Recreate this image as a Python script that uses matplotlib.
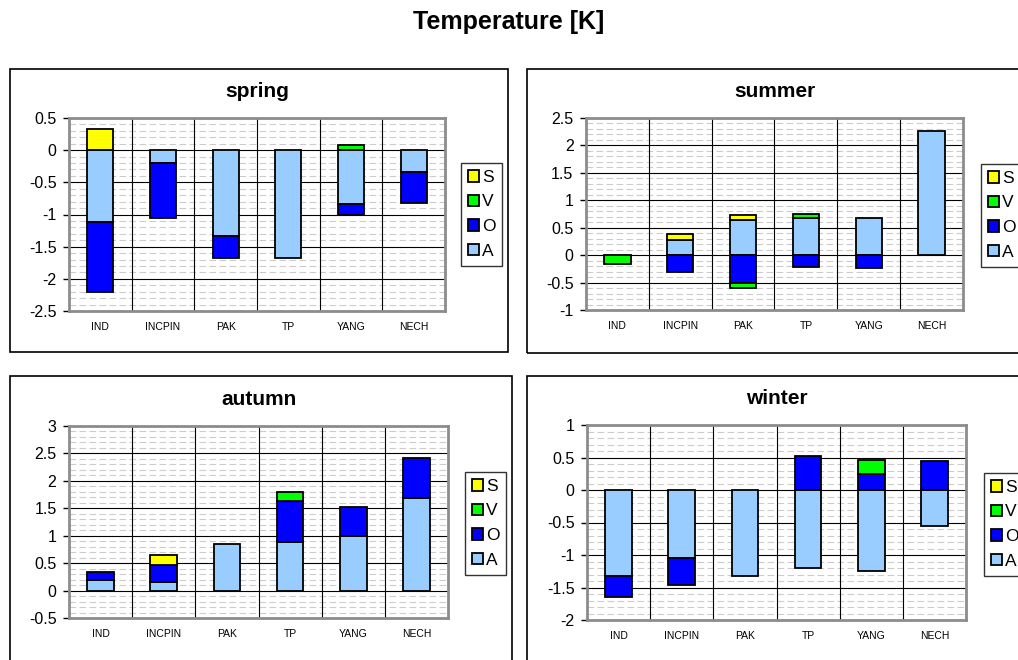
import matplotlib
matplotlib.use('Agg')
import matplotlib.pyplot as plt
import numpy as np
from matplotlib.patches import Patch, Rectangle
from matplotlib.ticker import MultipleLocator

plt.rcParams['font.family'] = ['Liberation Sans', 'DejaVu Sans']

categories = ['IND', 'INCPIN', 'PAK', 'TP', 'YANG', 'NECH']
series_names = ['A', 'O', 'V', 'S']
series_colors = ['#99CCFF', '#0000FF', '#00FF00', '#FFFF00']

# contributions per region, one list per component
spring_A = [-1.11, -0.20, -1.34, -1.67, -0.83, -0.34]
spring_O = [-1.10, -0.86, -0.33, 0.00, -0.18, -0.48]
spring_V = [0.00, 0.00, 0.00, 0.00, 0.08, 0.00]
spring_S = [0.33, 0.00, 0.00, 0.00, 0.00, 0.00]

summer_A = [0.00, 0.28, 0.64, 0.68, 0.68, 2.27]
summer_O = [0.00, -0.31, -0.50, -0.21, -0.24, 0.00]
summer_V = [-0.17, 0.00, -0.09, 0.07, 0.00, 0.00]
summer_S = [0.00, 0.10, 0.09, 0.00, 0.00, 0.00]

autumn_A = [0.19, 0.16, 0.85, 0.89, 0.99, 1.69]
autumn_O = [0.14, 0.30, 0.00, 0.74, 0.53, 0.73]
autumn_V = [0.00, 0.00, 0.00, 0.16, 0.00, 0.00]
autumn_S = [0.00, 0.19, 0.00, 0.00, 0.00, 0.00]

winter_A = [-1.33, -1.05, -1.32, -1.20, -1.24, -0.56]
winter_O = [-0.32, -0.41, 0.00, 0.52, 0.25, 0.44]
winter_V = [0.00, 0.00, 0.00, 0.00, 0.21, 0.00]
winter_S = [0.00, 0.00, 0.00, 0.00, 0.00, 0.00]

seasons = ['spring', 'summer', 'autumn', 'winter']
season_data = {
    'spring': [spring_A, spring_O, spring_V, spring_S],
    'summer': [summer_A, summer_O, summer_V, summer_S],
    'autumn': [autumn_A, autumn_O, autumn_V, autumn_S],
    'winter': [winter_A, winter_O, winter_V, winter_S],
}
y_limits = {'spring': (-2.5, 0.5), 'summer': (-1, 2.5),
            'autumn': (-0.5, 3), 'winter': (-2, 1)}

W, H = 1018, 660
# plot areas and legend anchors in pixels (left, top, right, bottom)
axes_px = {'spring': (69, 118, 445, 311), 'summer': (586, 118, 963, 310),
           'autumn': (69, 426, 448, 618), 'winter': (587, 425, 966, 620)}
legend_px = {'spring': (461, 163), 'summer': (981, 164),
             'autumn': (465, 472), 'winter': (984, 473)}
frames_px = [(10, 69, 508, 352), (527, 69, 1030, 353),
             (10, 376, 512, 680), (527, 376, 1030, 680)]

fig = plt.figure(figsize=(W / 100, H / 100), dpi=100)
fig.patch.set_facecolor('white')

for l, t, r, b in frames_px:
    fig.add_artist(Rectangle((l / W, 1 - b / H), (r - l) / W, (b - t) / H,
                             transform=fig.transFigure, fill=False,
                             edgecolor='black', linewidth=1.2))

x = np.arange(len(categories))
for season in seasons:
    l, t, r, b = axes_px[season]
    ax = fig.add_axes([l / W, 1 - b / H, (r - l) / W, (b - t) / H])
    pos = np.zeros(len(categories))
    neg = np.zeros(len(categories))
    for vals, color in zip(season_data[season], series_colors):
        vals = np.array(vals)
        for i, v in enumerate(vals):
            if v == 0:
                continue
            base = pos[i] if v > 0 else neg[i]
            ax.bar(x[i], v, bottom=base, width=0.42, color=color,
                   edgecolor='black', linewidth=1.3, zorder=3)
        pos += np.where(vals > 0, vals, 0)
        neg += np.where(vals < 0, vals, 0)

    ax.set_xlim(-0.5, len(categories) - 0.5)
    ax.set_ylim(*y_limits[season])
    ax.yaxis.set_major_locator(MultipleLocator(0.5))
    ax.yaxis.set_minor_locator(MultipleLocator(0.1))
    ax.yaxis.set_major_formatter(lambda v, p: f'{v:g}')
    ax.grid(which='major', axis='y', color='black', linewidth=0.8, zorder=1)
    ax.grid(which='minor', axis='y', color='#cccccc', linewidth=0.8,
            linestyle=(0, (6, 3)), zorder=0)
    for xb in np.arange(0.5, len(categories) - 0.5):
        ax.axvline(xb, color='black', linewidth=0.8, zorder=1)
    ax.set_axisbelow(True)

    ax.set_xticks(x)
    ax.set_xticklabels(categories, fontsize=7.5)
    ax.tick_params(axis='x', length=0, pad=8)
    ax.tick_params(axis='y', which='major', length=4, width=1, pad=5,
                   labelsize=11.5, color='black')
    ax.tick_params(axis='y', which='minor', length=0)
    for sp in ax.spines.values():
        sp.set_color('#8c8c8c')
        sp.set_linewidth(2)

    ax.set_title(season, fontsize=15, fontweight='bold', pad=15)

    handles = [Patch(facecolor=c, edgecolor='black', linewidth=1.3)
               for c in series_colors][::-1]
    lx, ly = legend_px[season]
    leg = ax.legend(handles, series_names[::-1], loc='upper left',
                    bbox_to_anchor=(lx / W, 1 - ly / H),
                    bbox_transform=fig.transFigure, fontsize=12.5,
                    frameon=True, fancybox=False, borderaxespad=0,
                    handlelength=0.65, handleheight=0.65, handletextpad=0.15,
                    labelspacing=0.55, borderpad=0.4)
    leg.get_frame().set_edgecolor('black')
    leg.get_frame().set_linewidth(1)

fig.suptitle('Temperature [K]', fontsize=18, fontweight='bold', y=0.985)
fig.savefig('out.png', dpi=100, facecolor='white')
